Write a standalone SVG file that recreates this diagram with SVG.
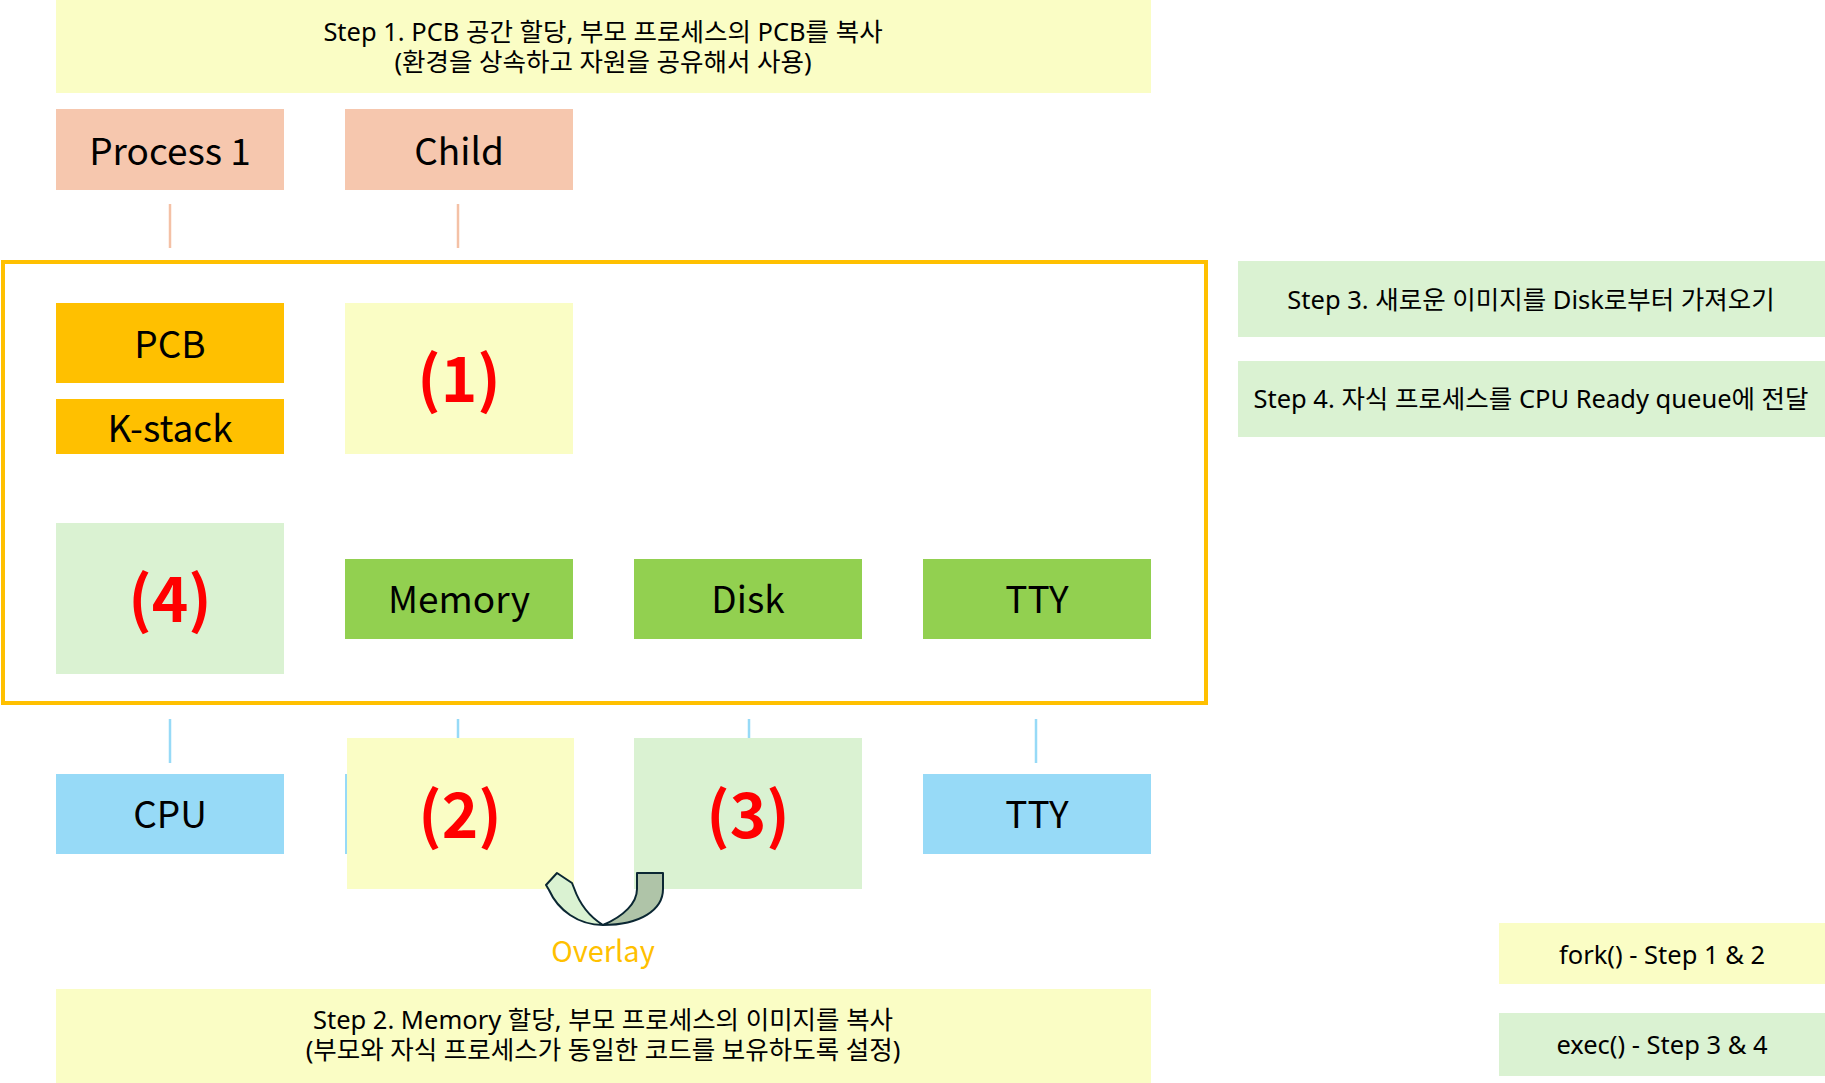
<svg xmlns="http://www.w3.org/2000/svg" width="1825" height="1083" viewBox="0 0 1825 1083">
<style>
text{font-family:"Noto Sans CJK KR","Noto Sans",sans-serif;text-anchor:middle;fill:#000}
.big{font-size:37px}
.num{font-size:62px;font-weight:bold;fill:#FF0000}
.note{font-size:25.5px;font-family:"Noto Sans","Noto Sans CJK KR",sans-serif}
.yel{fill:#FAFDC5}
.sal{fill:#F6C7AE}
.org{fill:#FFC000}
.grn{fill:#92D050}
.lgr{fill:#DAF2D2}
.blu{fill:#97DAF7}
.conn-s{stroke:#F4C1A6;stroke-width:2.5}
.conn-b{stroke:#97DAF7;stroke-width:2.5}
</style>
<rect width="1825" height="1083" fill="#FFFFFF"/>
<g id="step1">
<rect class="yel" x="56" y="0" width="1095" height="93"/>
<text class="note" x="603" y="41">Step 1. PCB 공간 할당, 부모 프로세스의 PCB를 복사</text>
<text class="note" x="603" y="71">(환경을 상속하고 자원을 공유해서 사용)</text>
</g>
<g id="process1"><rect class="sal" x="56" y="109" width="228" height="81"/><text class="big" x="170" y="165">Process 1</text></g>
<g id="child"><rect class="sal" x="345" y="109" width="228" height="81"/><text class="big" x="459" y="165">Child</text></g>
<g id="connectors">
<line class="conn-s" x1="170" y1="204" x2="170" y2="248"/>
<line class="conn-s" x1="458" y1="204" x2="458" y2="248"/>
<line class="conn-b" x1="170" y1="719" x2="170" y2="763"/>
<line class="conn-b" x1="458" y1="719" x2="458" y2="763"/>
<line class="conn-b" x1="749" y1="719" x2="749" y2="763"/>
<line class="conn-b" x1="1036" y1="719" x2="1036" y2="763"/>
</g>
<g id="container"><rect x="3" y="262" width="1203" height="441" fill="none" stroke="#FFC000" stroke-width="4"/></g>
<g id="pcb"><rect class="org" x="56" y="303" width="228" height="80"/><text class="big" x="170" y="358">PCB</text></g>
<g id="kstack"><rect class="org" x="56" y="399" width="228" height="55"/><text class="big" x="170" y="442">K-stack</text></g>
<g id="n1"><rect class="yel" x="345" y="303" width="228" height="151"/><text class="num" x="459" y="402">(1)</text></g>
<g id="n4"><rect class="lgr" x="56" y="523" width="228" height="151"/><text class="num" x="170" y="622">(4)</text></g>
<g id="memory"><rect class="grn" x="345" y="559" width="228" height="80"/><text class="big" x="459" y="613">Memory</text></g>
<g id="disk"><rect class="grn" x="634" y="559" width="228" height="80"/><text class="big" x="748" y="613">Disk</text></g>
<g id="tty"><rect class="grn" x="923" y="559" width="228" height="80"/><text class="big" x="1037" y="613">TTY</text></g>
<g id="cpu"><rect class="blu" x="56" y="774" width="228" height="80"/><text class="big" x="170" y="828">CPU</text></g>
<g id="memblue"><rect class="blu" x="345" y="774" width="228" height="80"/></g>
<g id="ttyblue"><rect class="blu" x="923" y="774" width="228" height="80"/><text class="big" x="1037" y="828">TTY</text></g>
<g id="n2"><rect class="yel" x="347" y="738" width="227" height="151"/><text class="num" x="460" y="838">(2)</text></g>
<g id="n3"><rect class="lgr" x="634" y="738" width="228" height="151"/><text class="num" x="748" y="838">(3)</text></g>
<g id="overlay">
<path d="M637,873 L663,873 L663,889 C663,910 640,925 603,925 C624,916 637,903 637,889 Z" fill="#AFC4A8" stroke="#0B2733" stroke-width="2" stroke-linejoin="round"/>
<path d="M546,885 L557,873 L572,883 L574,888 C580,905 590,917 603,925 C578,925 558,910 549,890 Z" fill="#DAF2D2" stroke="#0B2733" stroke-width="2" stroke-linejoin="round"/>
<text x="603" y="962" style="font-size:29px;fill:#FFC000">Overlay</text>
</g>
<g id="step2">
<rect class="yel" x="56" y="989" width="1095" height="94"/>
<text class="note" x="603" y="1029">Step 2. Memory 할당, 부모 프로세스의 이미지를 복사</text>
<text class="note" x="603" y="1059">(부모와 자식 프로세스가 동일한 코드를 보유하도록 설정)</text>
</g>
<g id="step3"><rect class="lgr" x="1238" y="261" width="587" height="76"/><text class="note" x="1531" y="309">Step 3. 새로운 이미지를 Disk로부터 가져오기</text></g>
<g id="step4"><rect class="lgr" x="1238" y="361" width="587" height="76"/><text class="note" x="1531" y="408">Step 4. 자식 프로세스를 CPU Ready queue에 전달</text></g>
<g id="fork"><rect class="yel" x="1499" y="923" width="326" height="61"/><text class="note" x="1662" y="964">fork() - Step 1 &amp; 2</text></g>
<g id="exec"><rect class="lgr" x="1499" y="1013" width="326" height="63"/><text class="note" x="1662" y="1054">exec() - Step 3 &amp; 4</text></g>
</svg>
